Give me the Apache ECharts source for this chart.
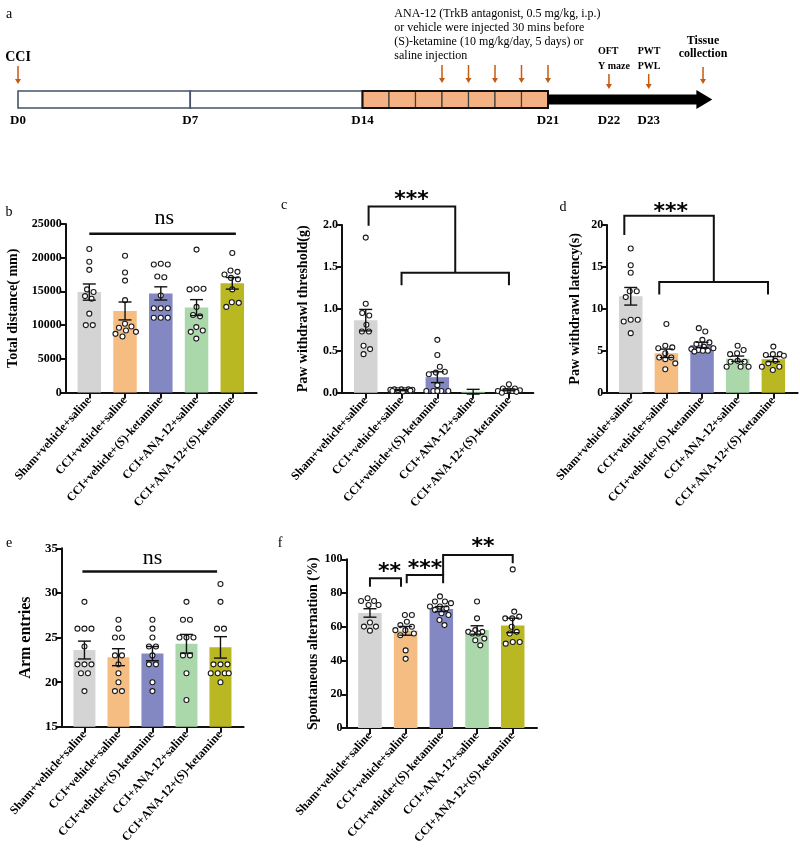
<!DOCTYPE html>
<html>
<head>
<meta charset="utf-8">
<script src="https://cdn.jsdelivr.net/npm/echarts@6/dist/echarts.min.js"></script>
<style>
  html, body { margin: 0; background: #fff; }
  #main { width: 800px; height: 851px; }
</style>
</head>
<body>
<div id="main"></div>
<script>
// ---- groups ----
const groupNames = ['Sham+vehicle+saline', 'CCI+vehicle+saline', 'CCI+vehicle+(S)-ketamine', 'CCI+ANA-12+saline', 'CCI+ANA-12+(S)-ketamine'];
const groupColors = ['#d4d4d4', '#f6bd83', '#8387c2', '#aad8aa', '#bab822'];

// ---- a: timeline (schematic units, one unit per treatment day) ----
const phaseBoxes = [[0, 6.5], [6.5, 13]];
const treatDays = [13, 14, 15, 16, 17, 18, 19];
const injectDays = [16, 17, 18, 19, 20];
const followArrow = [20, 26.2];
const dayLabels = ['D0', 'D7', 'D14', 'D21', 'D22', 'D23'];
const dayLabelAt = [0, 6.5, 13, 20, 22.3, 23.8];
const testDays = [22.3, 23.8];
const testLabels = [['OFT', 'Y maze'], ['PWT', 'PWL']];
const tissueDay = 25.85;
const noteLines = ['ANA-12 (TrkB antagonist, 0.5 mg/kg, i.p.)', 'or vehicle were injected 30 mins before', '(S)-ketamine (10 mg/kg/day, 5 days) or', 'saline injection'];

// ---- b: total distance ----
const distMean = [14900, 12100, 14700, 12600, 16200];
const distSem = [1200, 1330, 980, 1180, 860];
const distDots = [
  [21300, 19400, 18200, 15300, 14900, 14300, 13900, 11700, 10000, 10000],
  [20300, 17800, 16600, 13700, 10200, 9800, 9600, 9200, 9000, 8700, 8300],
  [19100, 19000, 19000, 17200, 17100, 14400, 12500, 12500, 12500, 11100, 11100, 11100],
  [21200, 15400, 15400, 15300, 12700, 11500, 11300, 9700, 9200, 9000, 8000],
  [20700, 18100, 17900, 17500, 17000, 16800, 15300, 13400, 13300, 12700]
];

// ---- c: paw withdrawal threshold ----
const pwtMean = [0.865, 0.03, 0.185, 0.012, 0.033];
const pwtSem = [0.128, 0.006, 0.064, 0.028, 0.01];
const pwtDots = [
  [1.85, 1.06, 0.95, 0.92, 0.81, 0.73, 0.73, 0.56, 0.52, 0.46],
  [0.04, 0.04, 0.04, 0.035, 0.035, 0.03, 0.03, 0.025, 0.02, 0.015],
  [0.63, 0.45, 0.31, 0.25, 0.24, 0.22, 0.09, 0.02, 0.02, 0.02, 0.02, 0.02],
  [],
  [0.1, 0.05, 0.05, 0.03, 0.03, 0.02, 0.02, 0.02, 0.01, 0.0]
];

// ---- d: paw withdrawal latency ----
const pwlMean = [11.5, 4.7, 5.7, 4.05, 4.0];
const pwlSem = [1.05, 0.5, 0.32, 0.32, 0.3];
const pwlDots = [
  [17.2, 15.2, 14.3, 12.1, 12.1, 11.4, 8.7, 8.7, 8.5, 7.1],
  [8.2, 5.6, 5.4, 5.3, 4.7, 4.2, 4.2, 4.0, 3.5, 2.8],
  [7.7, 7.3, 6.3, 6.0, 5.8, 5.5, 5.3, 5.2, 5.1, 5.0, 5.0, 4.9],
  [5.6, 5.1, 4.7, 4.6, 3.8, 3.7, 3.7, 3.1, 3.1, 3.1],
  [5.5, 4.6, 4.6, 4.5, 4.4, 3.8, 3.5, 3.1, 3.1, 2.7]
];

// ---- e: arm entries ----
const armMean = [23.6, 22.8, 23.2, 24.3, 23.9];
const armSem = [1.0, 0.95, 0.8, 1.05, 1.2];
const armDots = [
  [29, 26, 26, 26, 24, 22, 22, 22, 21, 21, 19],
  [27, 26, 25, 25, 23, 23, 22, 21, 20, 19, 19],
  [27, 26, 25, 24, 24, 23, 22, 22, 20, 19],
  [29, 27, 27, 25, 25, 25, 23, 23, 21, 18],
  [31, 29, 26, 26, 22, 22, 22, 21, 21, 21, 21, 20]
];

// ---- f: spontaneous alternation ----
const altMean = [68.2, 57.6, 70.5, 58.1, 60.8];
const altSem = [2.5, 2.6, 1.5, 2.5, 4.3];
const altDots = [
  [76.9, 75.3, 75.3, 72.9, 72.9, 62.5, 60.1, 60.1, 57.7],
  [67, 67, 63, 61, 60, 58, 58, 56, 55, 46, 41],
  [78, 75, 75, 74, 72, 72, 71, 70, 68, 67, 64, 61],
  [75, 65, 58, 57, 57, 56, 56, 53, 52, 49],
  [94, 69, 66, 65, 65, 60, 57, 56, 51, 51, 50]
];

const serif = "'Times New Roman', 'Liberation Serif', serif";
const ink = '#111';
const X_MIN = -0.66, X_MAX = 4.68;

const grids = [], xAxes = [], yAxes = [], series = [];

// simple beeswarm: spread dots sideways so they do not sit on top of each other
function swarm(vals, pxPerUnit) {
  const D = 7, MAX = 11;
  const order = vals.map((v, i) => i).sort((a, b) => vals[b] - vals[a]);
  const placed = [];
  const off = new Array(vals.length).fill(0);
  order.forEach(i => {
    const y = vals[i] * pxPerUnit;
    let pick = null, bestX = 0, bestD = -1;
    for (let s = 0; s <= MAX && pick === null; s += 0.5) {
      for (const x of (s === 0 ? [0] : [s, -s])) {
        let md = Infinity;
        placed.forEach(p => { md = Math.min(md, Math.hypot(p.x - x, p.y - y)); });
        if (md >= D) { pick = x; break; }
        if (md > bestD) { bestD = md; bestX = x; }
      }
    }
    if (pick === null) pick = bestX;
    placed.push({ i, x: pick, y });
    off[i] = pick;
  });
  // center each cluster of touching dots
  const byY = placed.slice().sort((a, b) => b.y - a.y);
  let cl = [];
  const flush = () => {
    if (!cl.length) return;
    const m = cl.reduce((s, p) => s + p.x, 0) / cl.length;
    cl.forEach(p => { off[p.i] = p.x - m; });
    cl = [];
  };
  byY.forEach((p, k) => {
    if (k > 0 && byY[k - 1].y - p.y >= D) flush();
    cl.push(p);
  });
  flush();
  return off;
}

const line = (x1, y1, x2, y2, w) => ({ type: 'line', shape: { x1, y1, x2, y2 }, style: { stroke: ink, lineWidth: w } });

function addPanel(p) {
  const gi = grids.length;
  grids.push({ left: p.left, top: p.top, width: p.width, height: p.height });
  xAxes.push({
    gridIndex: gi, type: 'value', min: X_MIN, max: X_MAX,
    axisLine: { onZero: false, lineStyle: { color: ink, width: 2 } },
    axisTick: { show: true, customValues: [0, 1, 2, 3, 4], length: 6, lineStyle: { color: ink, width: 2 } },
    axisLabel: {
      customValues: [0, 1, 2, 3, 4], rotate: 48, margin: 6, color: '#000',
      fontFamily: serif, fontWeight: 'bold', fontSize: 12,
      formatter: v => groupNames[Math.round(v)].replace('(S)', '({it|S})'),
      rich: { it: { fontStyle: 'italic', fontWeight: 'bold', fontFamily: serif, fontSize: 12, color: '#000' } }
    },
    splitLine: { show: false }
  });
  yAxes.push({
    gridIndex: gi, type: 'value', min: p.min, max: p.max, interval: p.step,
    name: p.name, nameLocation: 'middle', nameGap: p.nameGap, nameRotate: 90,
    nameTextStyle: { fontFamily: serif, fontWeight: 'bold', fontSize: p.nameSize || 14, color: '#000' },
    axisLine: { show: true, onZero: false, lineStyle: { color: ink, width: 2 } },
    axisTick: { show: true, length: 5, lineStyle: { color: ink, width: 2 } },
    axisLabel: { margin: 4, color: '#000', fontFamily: serif, fontWeight: 'bold', fontSize: p.labelSize || 12, formatter: p.fmt || (v => String(v)) },
    splitLine: { show: false }
  });
  const on = { xAxisIndex: gi, yAxisIndex: gi, silent: true };
  series.push({
    ...on, type: 'bar', barWidth: p.barW, z: 2,
    data: p.mean.map((m, i) => ({ value: [i, m], itemStyle: { color: groupColors[i] } }))
  });
  const pxu = p.height / (p.max - p.min);
  const dotData = [];
  p.dots.forEach((vals, g) => {
    const off = swarm(vals, pxu);
    vals.forEach((v, k) => dotData.push([g, v, off[k]]));
  });
  series.push({
    ...on, type: 'custom', z: 3, clip: false, data: dotData,
    renderItem: (params, api) => {
      const c = api.coord([api.value(0), api.value(1)]);
      return { type: 'circle', shape: { cx: c[0] + api.value(2), cy: c[1], r: 2.5 }, style: { fill: '#fff', stroke: '#1a1a1a', lineWidth: 1.1 } };
    }
  });
  series.push({
    ...on, type: 'custom', z: 4, clip: false,
    data: p.mean.map((m, i) => [i, m, p.sem[i]]),
    renderItem: (params, api) => {
      const x = api.value(0), m = api.value(1), s = api.value(2);
      const t = api.coord([x, m + s]), b = api.coord([x, m - s]);
      const w = 6.5;
      return { type: 'group', children: [
        line(t[0], t[1], b[0], b[1], 1.4),
        line(t[0] - w, t[1], t[0] + w, t[1], 1.4),
        line(b[0] - w, b[1], b[0] + w, b[1], 1.4)
      ] };
    }
  });
  if (p.brackets && p.brackets.length) {
    series.push({
      ...on, type: 'custom', z: 5, clip: false,
      data: p.brackets,
      renderItem: (params, api) => {
        const [x1, x2, y, l1, l2, w] = p.brackets[params.dataIndex];
        const pts = [api.coord([x1, l1]), api.coord([x1, y]), api.coord([x2, y]), api.coord([x2, l2])];
        return { type: 'polyline', shape: { points: pts }, style: { stroke: ink, lineWidth: w, fill: 'none' } };
      }
    });
  }
  if (p.notes && p.notes.length) {
    series.push({
      ...on, type: 'custom', z: 5, clip: false,
      data: p.notes.map(n => [n[0], n[1]]),
      renderItem: (params, api) => {
        const txt = p.notes[params.dataIndex][2];
        const c = api.coord([api.value(0), api.value(1)]);
        const star = txt.indexOf('*') >= 0;
        return {
          type: 'text',
          style: star
            ? { text: txt, x: c[0], y: c[1] + 5, align: 'center', verticalAlign: 'middle', fontFamily: 'DejaVu Sans', fontWeight: 'bold', fontSize: 22, fill: '#000' }
            : { text: txt, x: c[0], y: c[1], align: 'center', verticalAlign: 'middle', fontFamily: serif, fontSize: 22, fill: '#000' }
        };
      }
    });
  }
}

// b
addPanel({
  left: 65.7, top: 224, width: 190.9, height: 168.5, min: 0, max: 25000, step: 5000,
  name: 'Total distance( mm)', nameGap: 45, barW: 23.5,
  mean: distMean, sem: distSem, dots: distDots,
  brackets: [[0, 4.1, 23550, 23550, 23550, 2.5]],
  notes: [[2.1, 25900, 'ns']]
});
// c
addPanel({
  left: 342.1, top: 225, width: 191.2, height: 167.7, min: 0, max: 2, step: 0.5,
  name: 'Paw withdrawl threshold(g)', nameGap: 32, barW: 23.5, fmt: v => v.toFixed(1),
  mean: pwtMean, sem: pwtSem, dots: pwtDots,
  brackets: [[1, 4, 1.43, 1.28, 1.28, 2], [0.08, 2.5, 2.22, 1.99, 1.43, 2]],
  notes: [[1.28, 2.36, '***']]
});
// d
addPanel({
  left: 607.2, top: 225, width: 190.4, height: 167.7, min: 0, max: 20, step: 5,
  name: 'Paw withdrawl latency(s)', nameGap: 25, barW: 23.5,
  mean: pwlMean, sem: pwlSem, dots: pwlDots,
  brackets: [[0.8, 3.85, 13.2, 11.7, 11.7, 2], [-0.18, 2.33, 21.1, 18.8, 13.2, 2]],
  notes: [[1.12, 22.1, '***']]
});
// e
addPanel({
  left: 62, top: 548.3, width: 181.6, height: 178.5, min: 15, max: 35, step: 5,
  name: 'Arm entries', nameGap: 28, nameSize: 16, labelSize: 13, barW: 22,
  mean: armMean, sem: armSem, dots: armDots,
  brackets: [[-0.06, 3.9, 32.4, 32.4, 32.4, 2.5]],
  notes: [[2.0, 33.9, 'ns']]
});
// f
addPanel({
  left: 346.4, top: 559.3, width: 190.6, height: 168.7, min: 0, max: 100, step: 20,
  name: 'Spontaneous alternation (%)', nameGap: 18, barW: 23.5,
  mean: altMean, sem: altSem, dots: altDots,
  brackets: [[0, 0.87, 88.7, 83.8, 83.8, 2], [1.03, 2.05, 90.7, 85.8, 85.8, 2], [2.05, 4.0, 102.5, 90.7, 97.6, 2]],
  notes: [[0.55, 95.3, '**'], [1.54, 97.3, '***'], [3.17, 109.8, '**']]
});

// a: timeline
const aIdx = grids.length;
grids.push({ left: 18, top: 91, width: 26.2 * 26.5, height: 17 });
xAxes.push({ gridIndex: aIdx, type: 'value', min: 0, max: 26.2, show: false });
yAxes.push({ gridIndex: aIdx, type: 'value', min: 0, max: 1, show: false });

const orange = '#c55a11';
function downArrow(x, y1, y2) {
  return [
    { type: 'line', shape: { x1: x, y1: y1, x2: x, y2: y2 - 4 }, style: { stroke: orange, lineWidth: 1.5 } },
    { type: 'polygon', shape: { points: [[x - 3, y2 - 5], [x + 3, y2 - 5], [x, y2]] }, style: { fill: orange } }
  ];
}
function txt(text, x, y, size, weight, align) {
  return { type: 'text', style: { text, x, y, align: align || 'center', verticalAlign: 'middle', fontFamily: serif, fontSize: size, fontWeight: weight || 'normal', fill: '#000' } };
}
series.push({
  type: 'custom', xAxisIndex: aIdx, yAxisIndex: aIdx, clip: false, silent: true, data: [[0]],
  renderItem: (params, api) => {
    const X = u => api.coord([u, 0])[0];
    const yTop = api.coord([0, 1])[1], yBot = api.coord([0, 0])[1];
    const h = yBot - yTop, yMid = (yTop + yBot) / 2;
    const kids = [];
    phaseBoxes.forEach(([a, b]) => kids.push({ type: 'rect', shape: { x: X(a), y: yTop, width: X(b) - X(a), height: h }, style: { fill: '#fff', stroke: '#44546a', lineWidth: 1.6 } }));
    treatDays.forEach(d => kids.push({ type: 'rect', shape: { x: X(d), y: yTop, width: X(d + 1) - X(d), height: h }, style: { fill: '#f4b183', stroke: '#404040', lineWidth: 1.2 } }));
    const t0 = treatDays[0], t1 = treatDays[treatDays.length - 1] + 1;
    kids.push({ type: 'rect', shape: { x: X(t0), y: yTop, width: X(t1) - X(t0), height: h }, style: { fill: 'none', stroke: '#111', lineWidth: 2 } });
    const [f0, f1] = followArrow;
    kids.push({ type: 'rect', shape: { x: X(f0), y: yTop + h * 0.2, width: X(f1 - 0.55) - X(f0), height: h * 0.6 }, style: { fill: '#000' } });
    kids.push({ type: 'polygon', shape: { points: [[X(f1 - 0.6), yTop - 1], [X(f1), yMid], [X(f1 - 0.6), yBot + 1]] }, style: { fill: '#000' } });
    // arrows
    kids.push(...downArrow(X(0), yTop - 25, yTop - 7));
    injectDays.forEach(d => kids.push(...downArrow(X(d), yTop - 26, yTop - 8)));
    testDays.forEach(d => kids.push(...downArrow(X(d), yTop - 17, yTop - 2)));
    kids.push(...downArrow(X(tissueDay), yTop - 24, yTop - 7));
    // labels
    dayLabels.forEach((l, i) => kids.push(txt(l, X(dayLabelAt[i]), yBot + 13, 13, 'bold')));
    kids.push(txt('CCI', X(0), yTop - 34, 14, 'bold'));
    noteLines.forEach((l, i) => kids.push(txt(l, X(14.2), yTop - 77 + i * 14, 12, 'normal', 'left')));
    testLabels.forEach((pair, i) => pair.forEach((l, j) => kids.push(txt(l, X(testDays[i]) - 11, yTop - 40 + j * 15, 10, 'bold', 'left'))));
    kids.push(txt('Tissue', X(tissueDay), yTop - 50, 12, 'bold'));
    kids.push(txt('collection', X(tissueDay), yTop - 37, 12, 'bold'));
    return { type: 'group', children: kids };
  }
});

const letters = [['a', 9, 14], ['b', 9, 212], ['c', 284, 205], ['d', 563, 207], ['e', 9, 543], ['f', 280, 543]];

const chart = echarts.init(document.getElementById('main'));
chart.setOption({
  animation: false,
  backgroundColor: '#fff',
  grid: grids,
  xAxis: xAxes,
  yAxis: yAxes,
  series: series,
  graphic: letters.map(([t, x, y]) => ({
    type: 'text', x, y,
    style: { text: t, fontFamily: serif, fontSize: 14, fill: '#000', align: 'center', verticalAlign: 'middle' }
  }))
});
</script>
</body>
</html>
